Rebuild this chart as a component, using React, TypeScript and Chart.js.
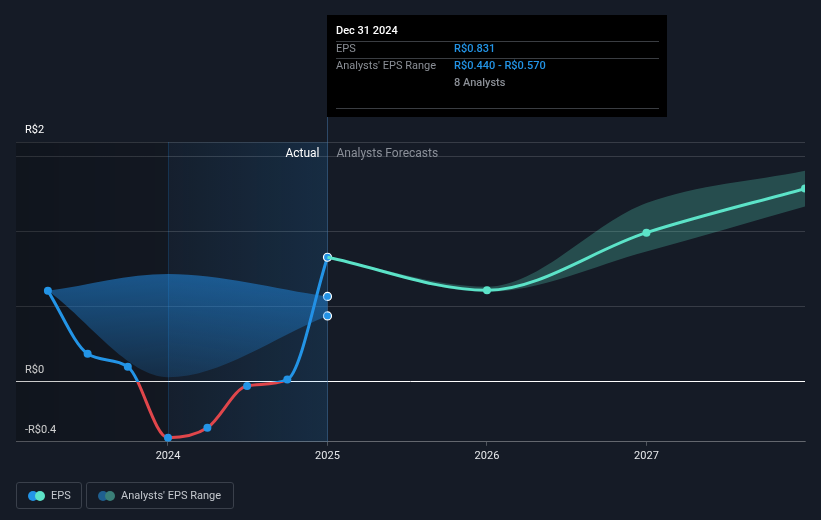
import React, { useEffect, useRef } from "react";
import { Chart, registerables } from "chart.js";

Chart.register(...registerables);

// ---- data ----
const actualDates = [2023.247, 2023.496, 2023.748, 2024.0, 2024.247, 2024.496, 2024.748, 2025.0];
const actualEps = [0.607, 0.187, 0.1, -0.373, -0.307, -0.027, 0.015, 0.831];

const forecastDates = [2025.0, 2026.0, 2027.0, 2027.994];
const forecastEps = [0.831, 0.611, 0.995, 1.289];

const pastRangeDates = [2023.247, 2024.0, 2025.0];
const pastRangeLow = [0.607, 0.031, 0.44];
const pastRangeHigh = [0.607, 0.72, 0.57];

const forecastRangeDates = [2025.0, 2026.0, 2027.0, 2027.994];
const forecastRangeLow = [0.831, 0.6, 0.869, 1.169];
const forecastRangeHigh = [0.831, 0.635, 1.193, 1.409];

const rangeMarkerDates = [2025.0, 2025.0];
const rangeMarkerValues = [0.57, 0.44];

const xTickYears = [2024, 2025, 2026, 2027];
const yTickValues = [-0.4, 0, 0.5, 1, 1.5, 1.6];
const yTickLabels: Record<string, string> = { "-0.4": "-R$0.4", "0": "R$0", "1.6": "R$2" };

const tooltipTitle = "Dec 31 2024";
const tooltipRows = [
  { label: "EPS", value: "R$0.831" },
  { label: "Analysts' EPS Range", value: "R$0.440 - R$0.570" },
];
const tooltipNote = "8 Analysts";

const BLUE = "#2394e6";
const RED = "#e0464b";
const TEAL = "#5ce3c8";
const BG = "#151b26";
const FONT = "Roboto, 'Noto Sans', sans-serif";

const zip = (xs: number[], ys: number[]) => xs.map((x, i) => ({ x, y: ys[i] }));

const backgroundPlugin = {
  id: "bgRegions",
  beforeDatasetsDraw(chart: any) {
    const { ctx, chartArea, scales } = chart;
    const x = scales.x;
    const top = chartArea.top;
    const bottom = chartArea.bottom;
    const x24 = x.getPixelForValue(2024);
    const x25 = x.getPixelForValue(2025);
    ctx.save();
    let g = ctx.createLinearGradient(chartArea.left, 0, x24, 0);
    g.addColorStop(0, "rgba(0,0,0,0.22)");
    g.addColorStop(1, "rgba(0,0,0,0.10)");
    ctx.fillStyle = g;
    ctx.fillRect(chartArea.left, top, x24 - chartArea.left, bottom - top);
    g = ctx.createLinearGradient(x24, 0, x25, 0);
    g.addColorStop(0, "rgba(33,150,243,0.04)");
    g.addColorStop(1, "rgba(33,150,243,0.14)");
    ctx.fillStyle = g;
    ctx.fillRect(x24, top, x25 - x24, bottom - top);
    ctx.strokeStyle = "rgba(33,150,243,0.18)";
    ctx.lineWidth = 1;
    ctx.beginPath();
    ctx.moveTo(Math.round(x24) + 0.5, top);
    ctx.lineTo(Math.round(x24) + 0.5, bottom);
    ctx.stroke();
    ctx.strokeStyle = "rgba(70,120,170,0.5)";
    ctx.beginPath();
    ctx.moveTo(Math.round(x25) + 0.5, 15);
    ctx.lineTo(Math.round(x25) + 0.5, bottom);
    ctx.stroke();
    ctx.font = `12px ${FONT}`;
    ctx.textBaseline = "middle";
    ctx.textAlign = "right";
    ctx.fillStyle = "#ffffff";
    ctx.fillText("Actual", x25 - 8, 154);
    ctx.textAlign = "left";
    ctx.fillStyle = "#8b9099";
    ctx.fillText("Analysts Forecasts", x25 + 9, 154);
    ctx.restore();
  },
};

const tooltipPlugin = {
  id: "fixedTooltip",
  afterDraw(chart: any) {
    const { ctx, scales } = chart;
    const boxL = Math.round(scales.x.getPixelForValue(2025));
    const boxR = 667;
    ctx.save();
    ctx.fillStyle = "#000000";
    ctx.fillRect(boxL, 15, boxR - boxL, 102);
    const innerL = boxL + 9;
    const innerR = boxR - 8;
    const col2 = boxL + 127;
    ctx.font = `500 11px ${FONT}`;
    ctx.textBaseline = "middle";
    ctx.textAlign = "left";
    ctx.fillStyle = "#ffffff";
    ctx.fillText(tooltipTitle, innerL, 31);
    ctx.strokeStyle = "#3a3d42";
    ctx.lineWidth = 1;
    [41.5, 58.5, 108.5].forEach((yy) => {
      ctx.beginPath();
      ctx.moveTo(innerL, yy);
      ctx.lineTo(innerR, yy);
      ctx.stroke();
    });
    tooltipRows.forEach((r, i) => {
      const yy = 49 + i * 17;
      ctx.font = `11px ${FONT}`;
      ctx.fillStyle = "#8b8f96";
      ctx.fillText(r.label, innerL, yy);
      ctx.font = `500 11px ${FONT}`;
      ctx.fillStyle = "#2394e6";
      ctx.fillText(r.value, col2, yy);
    });
    ctx.font = `500 11px ${FONT}`;
    ctx.fillStyle = "#8b8f96";
    ctx.fillText(tooltipNote, col2, 83);
    ctx.restore();
  },
};

function epsStroke(context: any) {
  const chart = context.chart;
  const { chartArea, scales } = chart;
  if (!chartArea) return BLUE;
  const y0 = scales.y.getPixelForValue(0);
  const g = chart.ctx.createLinearGradient(0, chartArea.top, 0, chartArea.bottom);
  const s = Math.min(1, Math.max(0, (y0 - chartArea.top) / (chartArea.bottom - chartArea.top)));
  g.addColorStop(0, BLUE);
  g.addColorStop(s, BLUE);
  g.addColorStop(s, RED);
  g.addColorStop(1, RED);
  return g;
}

function pastBandFill(context: any) {
  const chart = context.chart;
  const { chartArea } = chart;
  if (!chartArea) return "rgba(33,150,243,0.5)";
  const g = chart.ctx.createLinearGradient(0, 270, 0, 380);
  g.addColorStop(0, "rgba(33,140,230,0.55)");
  g.addColorStop(1, "rgba(33,140,230,0.18)");
  return g;
}

export default function App() {
  const ref = useRef<HTMLCanvasElement | null>(null);

  useEffect(() => {
    if (!ref.current) return;
    const chart = new Chart(ref.current, {
      type: "line",
      data: {
        datasets: [
          {
            data: zip(pastRangeDates, pastRangeHigh),
            borderWidth: 0,
            pointRadius: 0,
            fill: "+1",
            backgroundColor: pastBandFill,
            cubicInterpolationMode: "monotone",
          },
          {
            data: zip(pastRangeDates, pastRangeLow),
            borderWidth: 0,
            pointRadius: 0,
            fill: false,
            cubicInterpolationMode: "monotone",
          },
          {
            data: zip(forecastRangeDates, forecastRangeHigh),
            borderWidth: 0,
            pointRadius: 0,
            fill: "+1",
            backgroundColor: "rgba(92,227,200,0.25)",
            cubicInterpolationMode: "monotone",
          },
          {
            data: zip(forecastRangeDates, forecastRangeLow),
            borderWidth: 0,
            pointRadius: 0,
            fill: false,
            cubicInterpolationMode: "monotone",
          },
          {
            data: zip(forecastDates, forecastEps),
            borderColor: TEAL,
            borderWidth: 3,
            pointRadius: [0, 4, 4, 4],
            pointBackgroundColor: TEAL,
            pointBorderWidth: 0,
            fill: false,
            cubicInterpolationMode: "monotone",
          },
          {
            data: zip(actualDates, actualEps),
            borderColor: epsStroke,
            borderWidth: 3,
            pointRadius: 4,
            pointBackgroundColor: BLUE,
            pointBorderColor: (c: any) => (c.dataIndex === actualDates.length - 1 ? "#ffffff" : BLUE),
            pointBorderWidth: (c: any) => (c.dataIndex === actualDates.length - 1 ? 1.2 : 0),
            fill: false,
            cubicInterpolationMode: "monotone",
          },
          {
            data: zip(rangeMarkerDates, rangeMarkerValues),
            showLine: false,
            pointRadius: 4,
            pointBackgroundColor: BLUE,
            pointBorderColor: "#ffffff",
            pointBorderWidth: 1.2,
          },
        ],
      } as any,
      options: {
        animation: false,
        responsive: false,
        layout: { padding: { left: -2, right: 16, top: 142, bottom: 53 } },
        plugins: { legend: { display: false }, tooltip: { enabled: false } },
        scales: {
          x: {
            type: "linear",
            min: 2023.047,
            max: 2027.994,
            afterBuildTicks: (axis: any) => {
              axis.ticks = xTickYears.map((v) => ({ value: v }));
            },
            ticks: {
              color: "#e6e8eb",
              font: { size: 11, family: FONT },
              padding: 4,
              maxRotation: 0,
              callback: (v: any) => String(v),
            },
            grid: {
              drawOnChartArea: false,
              drawTicks: true,
              tickLength: 4,
              color: "rgba(255,255,255,0.25)",
            },
            border: { display: true, color: "rgba(255,255,255,0.22)" },
          },
          y: {
            type: "linear",
            min: -0.4,
            max: 1.6,
            afterBuildTicks: (axis: any) => {
              axis.ticks = yTickValues.map((v) => ({ value: v }));
            },
            ticks: {
              mirror: true,
              padding: 9,
              labelOffset: -12,
              color: "#ffffff",
              font: { size: 11, family: FONT },
              callback: (v: any) => {
                const key = String(Math.round(Number(v) * 10) / 10);
                return yTickLabels[key] ?? "";
              },
            },
            grid: {
              drawTicks: false,
              color: (c: any) =>
                Math.abs(c.tick.value) < 1e-9 ? "#ffffff" : "rgba(255,255,255,0.15)",
            },
            border: { display: false },
          },
        },
      } as any,
      plugins: [backgroundPlugin, tooltipPlugin],
    });
    return () => chart.destroy();
  }, []);

  const legendBox: React.CSSProperties = {
    position: "absolute",
    top: 482,
    height: 27,
    boxSizing: "border-box",
    border: "1px solid #3a404b",
    borderRadius: 3,
    display: "flex",
    alignItems: "center",
    fontFamily: FONT,
    fontSize: 11,
    color: "#c4c8ce",
  };
  const dot = (c: string, l: number): React.CSSProperties => ({
    position: "absolute",
    left: l,
    top: 8,
    width: 10,
    height: 10,
    borderRadius: 5,
    background: c,
  });

  return (
    <div style={{ position: "fixed", left: 0, top: 0, width: 821, height: 520, background: BG, overflow: "hidden" }}>
      <canvas ref={ref} width={821} height={520} style={{ display: "block" }} />
      <div style={{ ...legendBox, left: 16, width: 66 }}>
        <span style={dot(BLUE, 11)} />
        <span style={dot(TEAL, 18)} />
        <span style={{ position: "absolute", left: 34 }}>EPS</span>
      </div>
      <div style={{ ...legendBox, left: 86, width: 148 }}>
        <span style={dot("#1f5f8f", 11)} />
        <span style={dot("#3a7f78", 18)} />
        <span style={{ position: "absolute", left: 34 }}>Analysts' EPS Range</span>
      </div>
    </div>
  );
}
